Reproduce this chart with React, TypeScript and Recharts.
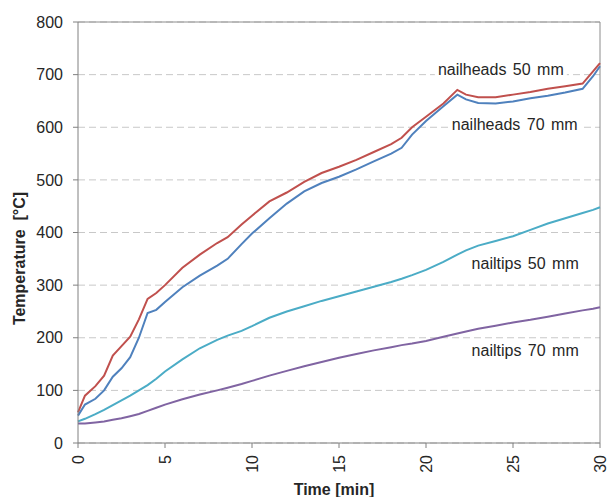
import React from "react";
import { LineChart, Line, XAxis, YAxis, CartesianGrid, ReferenceLine, ReferenceDot } from "recharts";

const times = [0, 0.4, 1, 1.5, 2, 2.5, 3, 3.5, 4, 4.5, 5, 6, 7, 8, 8.6, 9.4, 10, 11, 12, 13, 14, 15, 16, 17, 18, 18.6, 19.2, 20, 21, 21.8, 22.3, 23, 24, 25, 26, 27, 28, 29, 29.6, 30];
const nailheads50 = [58, 90, 108, 128, 166, 184, 202, 235, 274, 285, 300, 333, 358, 380, 391, 415, 432, 459, 476, 496, 513, 525, 538, 553, 568, 580, 600, 620, 645, 671, 662, 657, 657, 662, 667, 673, 678, 683, 706, 722];
const nailheads70 = [52, 73, 84, 100, 126, 142, 163, 200, 247, 253, 268, 296, 318, 337, 350, 378, 398, 427, 455, 478, 494, 506, 520, 535, 550, 561, 586, 612, 640, 662, 653, 646, 645, 649, 655, 660, 666, 673, 697, 716];
const nailtips50 = [41, 46, 55, 63, 72, 81, 90, 100, 110, 122, 136, 159, 180, 196, 204, 213, 222, 238, 250, 260, 270, 279, 288, 297, 306, 312, 319, 329, 344, 358, 366, 375, 384, 393, 405, 417, 427, 437, 443, 448];
const nailtips70 = [37, 37, 39, 41, 44, 47, 51, 55, 61, 67, 73, 83, 92, 100, 105, 112, 118, 128, 137, 146, 154, 162, 169, 176, 182, 186, 189, 194, 202, 208, 212, 217, 223, 229, 234, 240, 246, 252, 255, 258];

const xTicks = [0, 5, 10, 15, 20, 25, 30];
const yTicks = [0, 100, 200, 300, 400, 500, 600, 700, 800];

const seriesLabels = [
  { text: "nailheads 50 mm", t: 24.3, v: 709 },
  { text: "nailheads 70 mm", t: 25.1, v: 606 },
  { text: "nailtips 50 mm", t: 25.7, v: 342 },
  { text: "nailtips 70 mm", t: 25.7, v: 175 },
];

const data = times.map((t, i) => ({
  t,
  nh50: nailheads50[i],
  nh70: nailheads70[i],
  nt50: nailtips50[i],
  nt70: nailtips70[i],
}));

const FONT = "'Liberation Sans', Arial, sans-serif";
const TEXT = "#262626";

const XTick = (props: any) => {
  const { x, y, payload } = props;
  return (
    <text
      x={x}
      y={y}
      transform={`rotate(-90 ${x} ${y})`}
      textAnchor="end"
      dominantBaseline="central"
      fontSize={16}
      fontFamily={FONT}
      fill={TEXT}
    >
      {payload.value}
    </text>
  );
};

const makeLabelShape = (text: string) => (p: any) => {
  const { cx, cy } = p;
  const w = text.length * 8.4 + 6;
  return (
    <g>
      <rect x={cx - w / 2} y={cy - 8} width={w} height={16} fill="#ffffff" />
      <text
        x={cx}
        y={cy}
        textAnchor="middle"
        dominantBaseline="central"
        fontSize={16}
        fontFamily={FONT}
        fill={TEXT}
        style={{ wordSpacing: "2px" }}
      >
        {text}
      </text>
    </g>
  );
};

export default function App() {
  return (
    <div style={{ position: "absolute", left: 0, top: 0, width: 609, height: 497, background: "#fff", overflow: "hidden" }}>
      <LineChart width={609} height={497} data={data} margin={{ top: 22, right: 9, bottom: 0, left: 0 }}>
        <CartesianGrid vertical={false} stroke="#c8c8c8" strokeDasharray="7 4" />
        <XAxis
          dataKey="t"
          type="number"
          domain={[0, 30]}
          ticks={xTicks}
          height={54}
          tickSize={5}
          tickMargin={7}
          tick={<XTick />}
          stroke="#808080"
          axisLine={{ stroke: "#808080" }}
          tickLine={{ stroke: "#808080" }}
          label={{
            content: (lp: any) => {
              const vb = lp.viewBox;
              return (
                <text
                  x={vb.x + vb.width / 2 - 5}
                  y={vb.y + vb.height - 8}
                  textAnchor="middle"
                  dominantBaseline="central"
                  fontSize={16}
                  fontWeight="bold"
                  fontFamily={FONT}
                  fill={TEXT}
                >
                  Time [min]
                </text>
              );
            },
          }}
        />
        <YAxis
          type="number"
          domain={[0, 800]}
          ticks={yTicks}
          width={78}
          tickSize={5}
          tickMargin={10}
          tick={{ fontSize: 16, fontFamily: FONT, fill: TEXT }}
          axisLine={{ stroke: "#808080" }}
          tickLine={{ stroke: "#808080" }}
          label={{
            content: (lp: any) => {
              const vb = lp.viewBox;
              const x = vb.x + 19;
              const y = vb.y + vb.height / 2 + 26;
              return (
                <text
                  x={x}
                  y={y}
                  transform={`rotate(-90 ${x} ${y})`}
                  textAnchor="middle"
                  dominantBaseline="central"
                  fontSize={16}
                  fontWeight="bold"
                  fontFamily={FONT}
                  fill={TEXT}
                  style={{ whiteSpace: "pre" }}
                >
                  {"Temperature  [°C]"}
                </text>
              );
            },
          }}
        />
        <ReferenceLine y={800} stroke="#8c8c8c" strokeWidth={1} />
        <ReferenceLine x={30} stroke="#8c8c8c" strokeWidth={1} />
        {seriesLabels.map((l) => (
          <ReferenceDot key={l.text} x={l.t} y={l.v} r={1} shape={makeLabelShape(l.text)} />
        ))}
        <Line type="linear" dataKey="nt70" stroke="#8064A2" strokeWidth={2} dot={false} isAnimationActive={false} />
        <Line type="linear" dataKey="nt50" stroke="#4BACC6" strokeWidth={2} dot={false} isAnimationActive={false} />
        <Line type="linear" dataKey="nh50" stroke="#C0504D" strokeWidth={2} dot={false} isAnimationActive={false} />
        <Line type="linear" dataKey="nh70" stroke="#4F81BD" strokeWidth={2} dot={false} isAnimationActive={false} />
      </LineChart>
    </div>
  );
}
